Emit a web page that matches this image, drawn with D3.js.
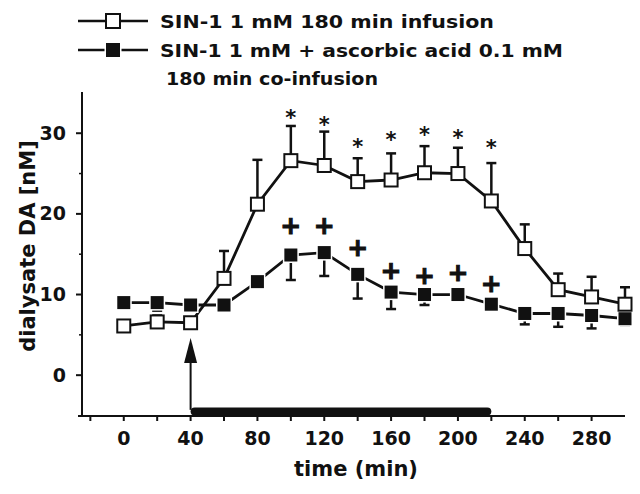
<!DOCTYPE html>
<html>
<head>
<meta charset="utf-8">
<script src="https://cdn.jsdelivr.net/npm/d3@7"></script>
<style>
  html, body { margin: 0; padding: 0; background: #ffffff; }
  svg { display: block; }
  text { font-family: "DejaVu Sans", sans-serif; font-weight: bold; fill: #111; }
</style>
</head>
<body>
<script>
// ---- data ----
const times = [0, 20, 40, 60, 80, 100, 120, 140, 160, 180, 200, 220, 240, 260, 280, 300];
const sin1 = [6.1, 6.6, 6.5, 12.0, 21.2, 26.6, 26.0, 24.0, 24.2, 25.1, 25.0, 21.6, 15.7, 10.6, 9.7, 8.8];
const sin1Err = [0.5, 0.8, 0.6, 3.4, 5.5, 4.3, 4.2, 2.9, 3.3, 3.3, 3.2, 4.7, 3.0, 2.0, 2.5, 2.1];
const ascorbic = [9.0, 9.0, 8.7, 8.7, 11.6, 14.9, 15.2, 12.5, 10.3, 10.0, 10.0, 8.8, 7.65, 7.65, 7.4, 7.0];
const ascorbicErr = [0.5, 1.0, 0.6, 0.5, 0.6, 3.1, 2.9, 3.0, 2.1, 1.3, 0.5, 0.6, 1.35, 1.65, 1.6, 0.8];
const starTimes = [100, 120, 140, 160, 180, 200, 220];
const starY = [32.5, 31.6, 28.9, 29.8, 30.4, 30.0, 28.8];
const plusTimes = [100, 120, 140, 160, 180, 200, 220];
const plusY = [18.5, 18.5, 15.8, 13.0, 12.4, 12.7, 11.4];
const xTickLabels = [0, 40, 80, 120, 160, 200, 240, 280];
const xMinorTicks = [-20, 0, 20, 40, 60, 80, 100, 120, 140, 160, 180, 200, 220, 240, 260, 280];
const yTickLabels = [0, 10, 20, 30];
const yMinorTicks = [5, 15, 25];
const infusion = [40, 220];
const arrowTime = 40;
const legendLabels = ["SIN-1 1 mM 180 min  infusion", "SIN-1 1 mM + ascorbic acid 0.1 mM", "180 min co-infusion"];
const xTitle = "time (min)";
const yTitle = "dialysate DA [nM]";

// ---- layout ----
const W = 640, H = 494;
const svg = d3.select("body").append("svg").attr("width", W).attr("height", H);

const x = d3.scaleLinear().domain([-25, 300]).range([82, 625]);
const y = d3.scaleLinear().domain([-5, 35]).range([415.5, 92.9]);
const axisY = 416;

const ink = "#111";

// axes lines
svg.append("line").attr("x1", 78).attr("x2", 625).attr("y1", axisY).attr("y2", axisY)
  .attr("stroke", ink).attr("stroke-width", 2);
svg.append("line").attr("x1", 82).attr("x2", 82).attr("y1", y(35) - 1).attr("y2", axisY)
  .attr("stroke", ink).attr("stroke-width", 2);

// y ticks
svg.selectAll(".ytick").data(yTickLabels).enter().append("line")
  .attr("x1", 76).attr("x2", 82).attr("y1", d => y(d)).attr("y2", d => y(d))
  .attr("stroke", ink).attr("stroke-width", 2);
svg.selectAll(".ytickm").data(yMinorTicks).enter().append("line")
  .attr("x1", 79).attr("x2", 82).attr("y1", d => y(d)).attr("y2", d => y(d))
  .attr("stroke", ink).attr("stroke-width", 1.5);
svg.selectAll(".ylab").data(yTickLabels).enter().append("text")
  .attr("x", 66).attr("y", d => y(d) + 6.5).attr("text-anchor", "end")
  .attr("font-size", 19).text(d => d);

// x ticks
svg.selectAll(".xtick").data(xMinorTicks).enter().append("line")
  .attr("x1", d => x(d)).attr("x2", d => x(d)).attr("y1", axisY).attr("y2", axisY + 5)
  .attr("stroke", ink).attr("stroke-width", 2);
svg.selectAll(".xlab").data(xTickLabels).enter().append("text")
  .attr("x", d => x(d)).attr("y", 445).attr("text-anchor", "middle")
  .attr("font-size", 19).text(d => d);

// titles
svg.append("text").attr("x", 356).attr("y", 476).attr("text-anchor", "middle")
  .attr("font-size", 21).text(xTitle);
svg.append("text").attr("transform", "translate(35,246) rotate(-90)")
  .attr("text-anchor", "middle").attr("font-size", 21).text(yTitle);

// infusion bar
svg.append("line").attr("x1", x(infusion[0]) + 4).attr("x2", x(infusion[1]) - 4)
  .attr("y1", y(-4.5)).attr("y2", y(-4.5))
  .attr("stroke", ink).attr("stroke-width", 8).attr("stroke-linecap", "round");

// arrow
const ax = x(arrowTime);
svg.append("line").attr("x1", ax).attr("x2", ax).attr("y1", y(-4.3)).attr("y2", y(2.0))
  .attr("stroke", ink).attr("stroke-width", 2);
svg.append("path")
  .attr("d", `M${ax},${y(4.6)} L${ax - 6.5},${y(1.5)} L${ax + 6.5},${y(1.5)} Z`)
  .attr("fill", ink);

// lines
const line = d3.line().x(d => x(d[0])).y(d => y(d[1]));
const sinPts = times.map((t, i) => [t, sin1[i]]);
const ascPts = times.map((t, i) => [t, ascorbic[i]]);

svg.append("path").attr("d", line(ascPts)).attr("fill", "none")
  .attr("stroke", ink).attr("stroke-width", 2.8);
svg.append("path").attr("d", line(sinPts)).attr("fill", "none")
  .attr("stroke", ink).attr("stroke-width", 2.8);

// error bars: ascorbic (downward)
const cap = 5;
times.forEach((t, i) => {
  const cx = x(t), y0 = y(ascorbic[i]), y1 = y(ascorbic[i] - ascorbicErr[i]);
  svg.append("line").attr("x1", cx).attr("x2", cx).attr("y1", y0).attr("y2", y1)
    .attr("stroke", ink).attr("stroke-width", 2.5);
  svg.append("line").attr("x1", cx - cap).attr("x2", cx + cap).attr("y1", y1).attr("y2", y1)
    .attr("stroke", ink).attr("stroke-width", 2.5);
});
// error bars: sin1 (upward)
times.forEach((t, i) => {
  const cx = x(t), y0 = y(sin1[i]), y1 = y(sin1[i] + sin1Err[i]);
  svg.append("line").attr("x1", cx).attr("x2", cx).attr("y1", y0).attr("y2", y1)
    .attr("stroke", ink).attr("stroke-width", 2.5);
  svg.append("line").attr("x1", cx - cap).attr("x2", cx + cap).attr("y1", y1).attr("y2", y1)
    .attr("stroke", ink).attr("stroke-width", 2.5);
});

// filled squares with white halo
const fs = 13;
svg.selectAll(".asq").data(ascPts).enter().append("rect")
  .attr("x", d => x(d[0]) - fs / 2).attr("y", d => y(d[1]) - fs / 2)
  .attr("width", fs).attr("height", fs)
  .attr("fill", ink).attr("stroke", "#fff").attr("stroke-width", 3)
  .attr("paint-order", "stroke");
// open squares
const os = 13;
svg.selectAll(".ssq").data(sinPts).enter().append("rect")
  .attr("x", d => x(d[0]) - os / 2).attr("y", d => y(d[1]) - os / 2)
  .attr("width", os).attr("height", os)
  .attr("fill", "#fff").attr("stroke", ink).attr("stroke-width", 2);

// significance marks
svg.selectAll(".star").data(starTimes.map((t, i) => [t, starY[i]])).enter().append("text")
  .attr("x", d => x(d[0])).attr("y", d => y(d[1]) + 12)
  .attr("text-anchor", "middle").attr("font-size", 21).text("*");
svg.selectAll(".plus").data(plusTimes.map((t, i) => [t, plusY[i]])).enter().append("text")
  .attr("x", d => x(d[0])).attr("y", d => y(d[1]) + 8.5)
  .attr("text-anchor", "middle").attr("font-size", 25)
  .attr("stroke", ink).attr("stroke-width", 1).text("+");

// legend
const lg = svg.append("g");
[21, 50].forEach((cy, i) => {
  lg.append("line").attr("x1", 78).attr("x2", 148).attr("y1", cy).attr("y2", cy)
    .attr("stroke", ink).attr("stroke-width", 2.5);
  if (i === 0) {
    lg.append("rect").attr("x", 113 - 7).attr("y", cy - 7).attr("width", 14).attr("height", 14)
      .attr("fill", "#fff").attr("stroke", ink).attr("stroke-width", 2);
  } else {
    lg.append("rect").attr("x", 113 - 7).attr("y", cy - 7).attr("width", 14).attr("height", 14)
      .attr("fill", ink).attr("stroke", "#fff").attr("stroke-width", 3).attr("paint-order", "stroke");
  }
});
const legendPos = [[160, 21, 334], [160, 50, 403], [166, 78, 212]];
legendLabels.forEach((s, i) => {
  lg.append("text").attr("x", legendPos[i][0]).attr("y", legendPos[i][1] + 6.5)
    .attr("font-size", 18).attr("textLength", legendPos[i][2])
    .attr("lengthAdjust", "spacingAndGlyphs").text(s);
});
</script>
</body>
</html>
